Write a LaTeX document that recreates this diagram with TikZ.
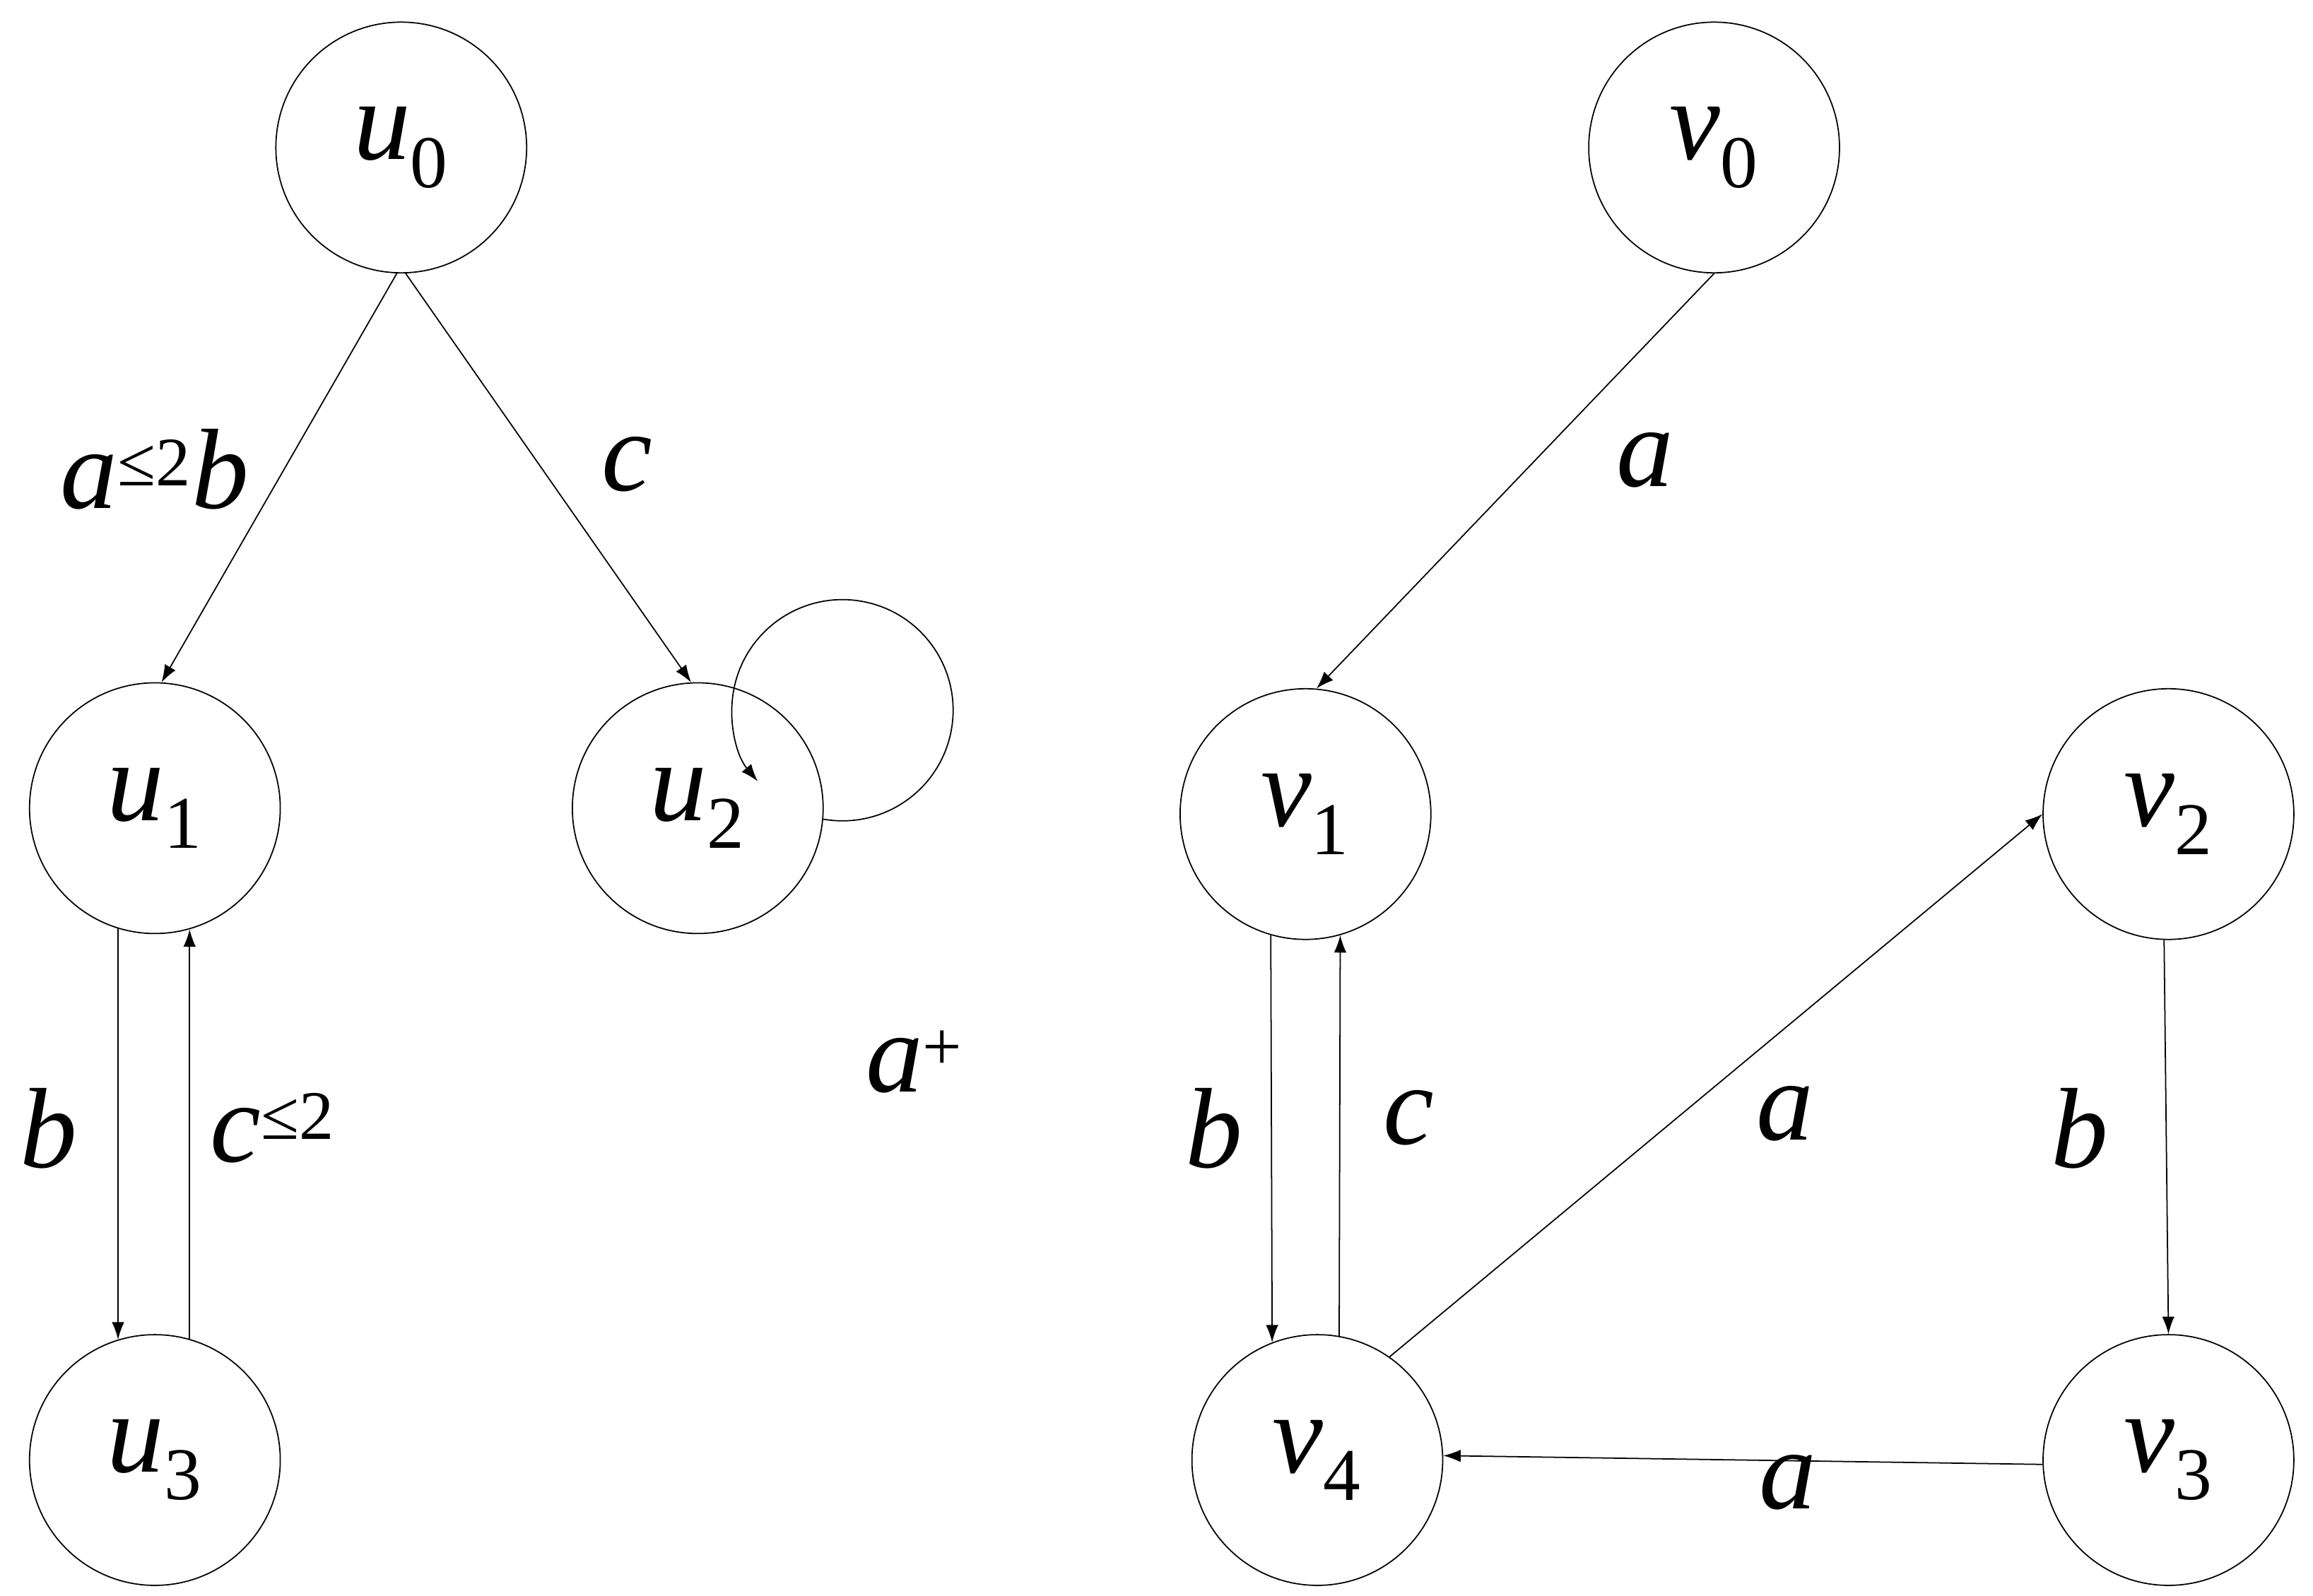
\documentclass[tikz,border=0pt]{standalone}
\usepackage{fontspec}
\usepackage{amssymb}
\setmainfont{Liberation Serif}
\usetikzlibrary{arrows.meta}
\begin{document}
\begin{tikzpicture}[x=0.020874cm,y=-0.020874cm,
  st/.style={circle,draw,line width=0.5pt,minimum size=170*0.020874cm,inner sep=0pt,font=\fontsize{46}{50}\selectfont\itshape},
  lb/.style={font=\fontsize{46}{50}\selectfont\itshape},
  e/.style={line width=0.5pt,-{Latex[length=7pt,width=5pt]}}]
\useasboundingbox (0,0) rectangle (1568,1082);
\newcommand{\sub}[1]{\textsubscript{\upshape\fontsize{30}{30}\selectfont #1}}
\node[st] (u0) at (272,100) {u\sub{0}};
\node[st] (u1) at (105,548) {u\sub{1}};
\node[st] (u2) at (473,548) {u\sub{2}};
\node[st] (u3) at (105,990) {u\sub{3}};
\node[st] (v0) at (1162,100) {v\sub{0}};
\node[st] (v1) at (885,552) {v\sub{1}};
\node[st] (v2) at (1470,552) {v\sub{2}};
\node[st] (v3) at (1470,990) {v\sub{3}};
\node[st] (v4) at (893,990) {v\sub{4}};
\draw[e] (u0.-92) -- (u1.87);
\draw[e] (u0.-88) -- (u2.93);
\draw[e] (u1.-107) -- (u3.107);
\draw[e] (u3.74) -- (u1.-74);
\draw[e] (u2.-5) arc[start angle=100,end angle=-220,radius=75];
\draw[e] (v0.-90) -- (v1.85);
\draw[e] (v1.-106) -- (v4.111);
\draw[e] (v4.80) -- (v1.-74);
\draw[e] (v4.55) -- (v2.180);
\draw[e] (v2.-92) -- (v3.90);
\draw[e] (v3.182) -- (v4.2);
\node[lb] (l1) at (105,318) {a\textsuperscript{\upshape\fontsize{28}{28}\selectfont≤2}b};
\node[lb] (l2) at (425,315) {c};
\node[lb] (l3) at (33,765) {b};
\node[lb] (l4) at (185,765) {c\textsuperscript{\upshape\fontsize{28}{28}\selectfont≤2}};
\node[lb] (l5) at (620,720) {a\textsuperscript{\upshape\fontsize{28}{28}\selectfont+}};
\node[lb] (l6) at (1115,312) {a};
\node[lb] (l7) at (823,765) {b};
\node[lb] (l8) at (955,758) {c};
\node[lb] (l9) at (1210,755) {a};
\node[lb] (l10) at (1410,765) {b};
\node[lb] (l11) at (1212,1005) {a};
\end{tikzpicture}
\end{document}
